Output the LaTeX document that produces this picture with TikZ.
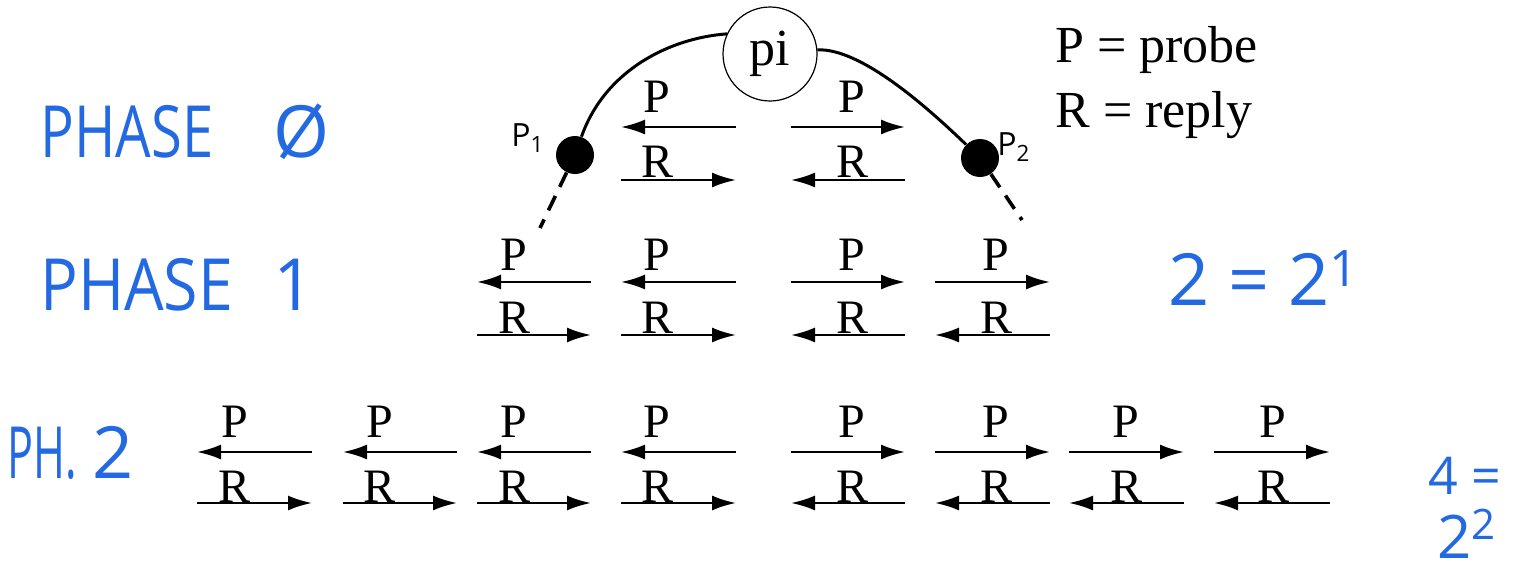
\documentclass[tikz,border=0pt]{standalone}
\usepackage{fontspec}
\setmainfont{Liberation Serif}
\newfontfamily\handfont{Open Sans}
\usepackage{graphicx}
\usetikzlibrary{arrows.meta}

\definecolor{handblue}{RGB}{35,105,225}

\tikzset{
  msg/.style={-{Latex[length=12pt,width=7.5pt]}, line width=1.2pt},
  lbl/.style={font=\fontsize{24}{28}\selectfont, inner sep=0pt, anchor=base},
  legend/.style={font=\fontsize{26}{30}\selectfont, inner sep=0pt, anchor=base west},
  hand/.style={text=handblue, font=\handfont\fontsize{36}{42}\selectfont, inner sep=0pt, anchor=base west},
  peer/.style={circle, fill=black, minimum size=19pt, inner sep=0pt},
  ring/.style={line width=1.5pt},
  tail/.style={line width=1.8pt, dash pattern=on 8pt off 5pt}
}

\begin{document}
\begin{tikzpicture}[x=0.5pt, y=-0.5pt]
  \useasboundingbox (0,0) rectangle (1534,573);

  % Legend
  \node[legend] (legP) at (1055,62) {P = probe};
  \node[legend] (legR) at (1055,127) {R = reply};

  % Initiator and its two neighbours
  \node[draw, circle, minimum size=47pt, inner sep=0pt, line width=0.6pt,
        font=\fontsize{26}{30}\selectfont] (pi) at (770,54) {pi};
  \node[peer] (p1) at (575,155) {};
  \node[peer] (p2) at (980,158) {};
  \node[font=\handfont\fontsize{16}{18}\selectfont] (p1lbl) at (528,138) {P\textsubscript{1}};
  \node[font=\handfont\fontsize{16}{18}\selectfont] (p2lbl) at (1014,147) {P\textsubscript{2}};

  \draw[ring] (p1) .. controls (605,70) and (670,38) .. (pi.155);
  \draw[ring] (pi.5) .. controls (860,48) and (925,105) .. (p2);
  \draw[tail] (p1) -- (540,228);
  \draw[tail] (p2) -- (1022,220);

  % Phase 0
  \foreach \lx/\s/\e in {657/736/621, 852/791/905} {
    \draw[msg] (\s,127) -- (\e,127);
    \draw[msg] (\e,180) -- (\s,180);
    \node[lbl] (pa\lx) at (\lx,112) {P};
    \node[lbl] (ra\lx) at (\lx,177) {R};
  }

  % Phase 1
  \foreach \lx/\s/\e in {514/591/477, 657/736/621, 852/791/905, 996/935/1050} {
    \draw[msg] (\s,282) -- (\e,282);
    \draw[msg] (\e,335) -- (\s,335);
    \node[lbl] (pb\lx) at (\lx,270) {P};
    \node[lbl] (rb\lx) at (\lx,333) {R};
  }

  % Phase 2
  \foreach \lx/\s/\e in {235/312/197, 380/457/343, 514/591/477, 657/736/621,
                         852/791/905, 996/935/1050, 1126/1069/1184, 1273/1214/1330} {
    \draw[msg] (\s,452) -- (\e,452);
    \draw[msg] (\e,503) -- (\s,503);
    \node[lbl] (pc\lx) at (\lx,437) {P};
    \node[lbl] (rc\lx) at (\lx,502) {R};
  }

  % Handwritten notes
  \node[hand] (ph0) at (40,157) {\scalebox{0.78}[1]{PHASE}\hspace{30pt}Ø};
  \node[hand] (ph1) at (40,310) {\scalebox{0.87}[1]{PHASE}\hspace{20pt}1};
  \node[hand] (ph2) at (7,478) {\scalebox{0.6}[1]{PH.}\hspace{8pt}2};
  \node[hand] (cnt1) at (1168,305) {2 = 2\textsuperscript{1}};
  \node[hand, font=\handfont\fontsize{26}{34}\selectfont] (cnt2a) at (1428,494) {4 =};
  \node[hand, font=\handfont\fontsize{30}{34}\selectfont] (cnt2b) at (1437,558) {2\textsuperscript{2}};
\end{tikzpicture}
\end{document}
